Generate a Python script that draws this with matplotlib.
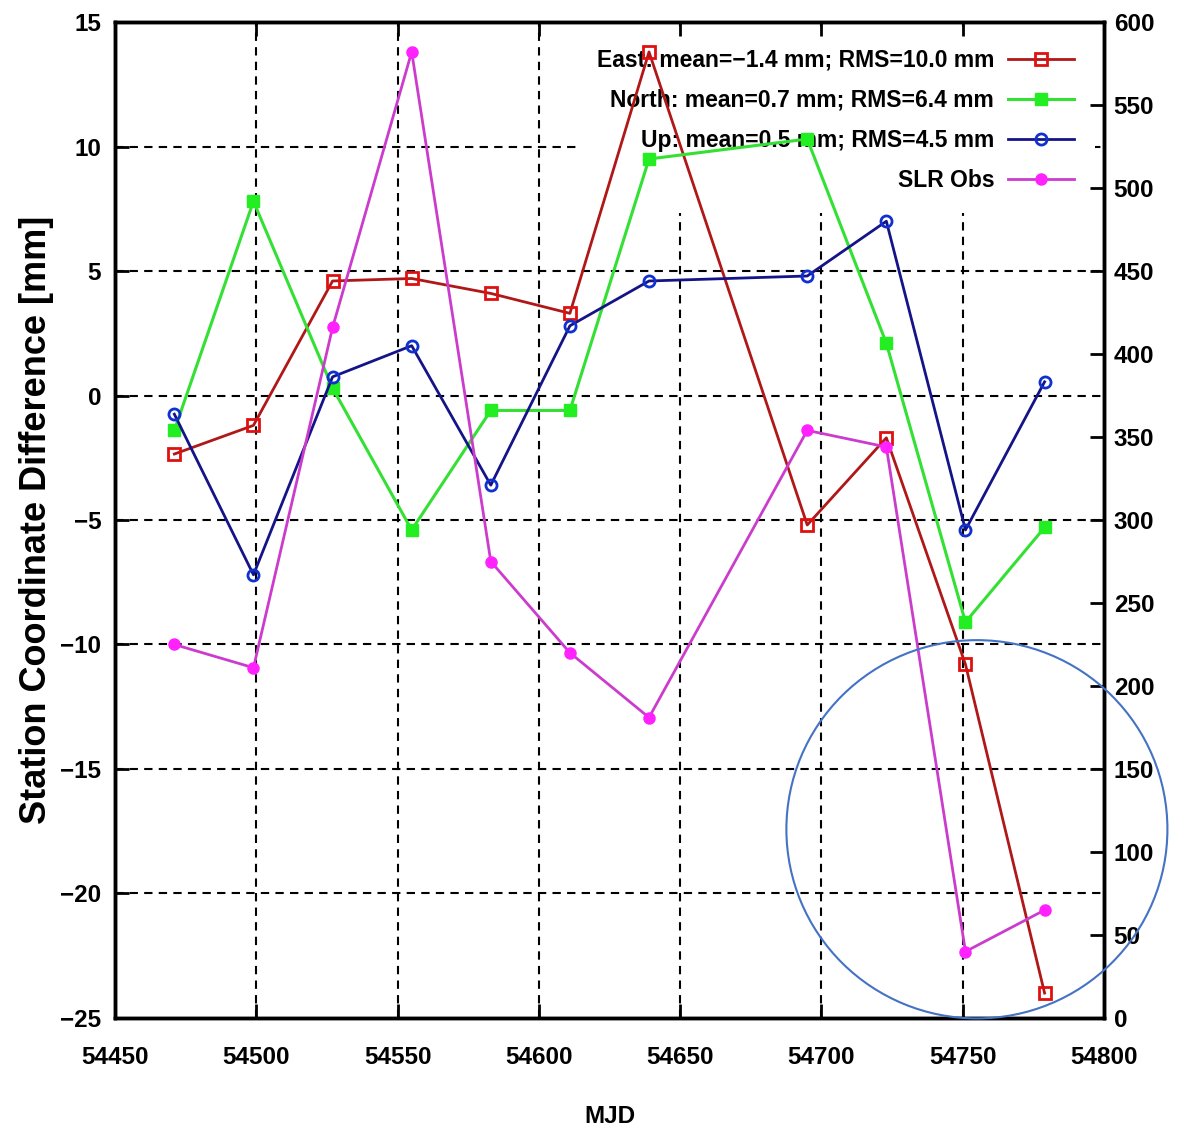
import matplotlib
matplotlib.use("Agg")
import matplotlib.pyplot as plt
import numpy as np
from matplotlib.patches import Ellipse

plt.rcParams['font.family'] = ['Liberation Sans', 'DejaVu Sans']
plt.rcParams['font.weight'] = 'bold'

mjd = [54471, 54499, 54527, 54555, 54583, 54611, 54639, 54695, 54723, 54751, 54779]
east = [-2.35, -1.2, 4.6, 4.7, 4.1, 3.3, 13.8, -5.2, -1.7, -10.8, -24.0]
north = [-1.4, 7.8, 0.3, -5.4, -0.6, -0.6, 9.5, 10.3, 2.1, -9.1, -5.3]
up = [-0.75, -7.2, 0.75, 2.0, -3.6, 2.8, 4.6, 4.8, 7.0, -5.4, 0.55]
slr_obs = [225, 211, 416, 582, 275, 220, 181, 354, 344, 40, 65]

labels = ["East: mean=\u22121.4 mm; RMS=10.0 mm",
          "North: mean=0.7 mm; RMS=6.4 mm",
          "Up: mean=0.5 mm; RMS=4.5 mm",
          "SLR Obs"]

fig = plt.figure(figsize=(11.87, 11.36), dpi=100)
ax = fig.add_axes([0.0969, 0.1039, 0.8331, 0.8767])
ax2 = ax.twinx()

fs = 17.5
l1, = ax.plot(mjd, east, color='#b01818', lw=2.0, marker='s', ms=8, mfc='none',
              mec='#e01010', mew=2, zorder=3)
l2, = ax.plot(mjd, north, color='#33e033', lw=2.2, marker='s', ms=8, mfc='#22ee22',
              mec='#22ee22', zorder=3)
l3, = ax.plot(mjd, up, color='#141488', lw=2.0, marker='o', ms=8, mfc='none',
              mec='#1030d0', mew=2, zorder=3)
l4, = ax2.plot(mjd, slr_obs, color='#cc3ccc', lw=2.0, marker='o', ms=8, mfc='#ff22ff',
               mec='#ff22ff', zorder=3)

ax.set_xlim(54450, 54800)
ax.set_ylim(-25, 15)
ax2.set_ylim(0, 600)
ax.set_xticks(np.arange(54450, 54801, 50))
ax.set_yticks(np.arange(-25, 16, 5))
ax2.set_yticks(np.arange(0, 601, 50))

for a in (ax, ax2):
    for s in a.spines.values():
        s.set_linewidth(2.5)
ax.tick_params(axis='both', direction='in', length=10, width=2, labelsize=fs, top=True)
ax.tick_params(axis='x', pad=20)
ax.tick_params(axis='y', pad=10, right=False)
ax2.tick_params(axis='y', direction='in', length=10, width=2, labelsize=fs, pad=7)

# dashed grid, only at interior ticks
for y in range(-20, 11, 5):
    ax.axhline(y, color='black', lw=1.5, ls=(0, (4, 3)), zorder=0.8)
for x in range(54500, 54751, 50):
    ax.axvline(x, color='black', lw=1.5, ls=(0, (4, 3)), zorder=0.8)

ax.set_xlabel("MJD", fontsize=fs, fontweight='bold', labelpad=26)
ax.set_ylabel("Station Coordinate Difference [mm]", fontsize=26, fontweight='bold',
              labelpad=4)

leg = ax.legend([l1, l2, l3, l4], labels, loc='upper right', bbox_to_anchor=(0.991, 0.994),
                fontsize=16.5, markerfirst=False, frameon=True, framealpha=1,
                edgecolor='none', handlelength=2.9, labelspacing=0.75,
                borderpad=0.9, borderaxespad=0, handletextpad=0.6)
leg.set_zorder(1.2)

fig.patches.append(Ellipse((0.823, 0.270), 0.321, 0.333, transform=fig.transFigure,
                           fill=False, edgecolor='#4472c4', lw=1.5, figure=fig))

fig.savefig("out.png", dpi=100)
